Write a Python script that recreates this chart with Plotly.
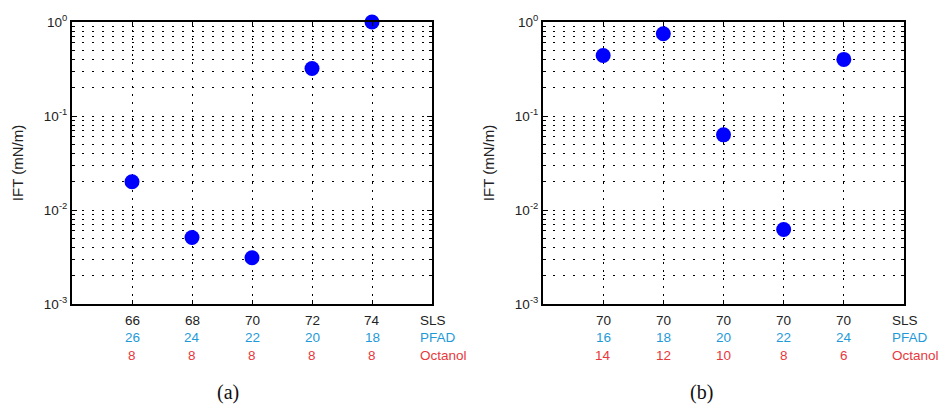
import plotly.graph_objects as go

# ---- data ----
pos = [1, 2, 3, 4, 5]
sls_a = [66, 68, 70, 72, 74]
pfad_a = [26, 24, 22, 20, 18]
oct_a = [8, 8, 8, 8, 8]
ift_a = [0.020, 0.0051, 0.0031, 0.32, 1.0]

sls_b = [70, 70, 70, 70, 70]
pfad_b = [16, 18, 20, 22, 24]
oct_b = [14, 12, 10, 8, 6]
ift_b = [0.44, 0.75, 0.063, 0.0062, 0.40]

row_names = ["SLS", "PFAD", "Octanol"]
row_colors = ["#222222", "#1f9ad8", "#e8383d"]

decades = [1e-3, 1e-2, 1e-1, 1.0]
decade_text = ["10<sup>-3</sup>", "10<sup>-2</sup>", "10<sup>-1</sup>", "10<sup>0</sup>"]
minor_vals = [m * 10 ** e for e in [-3, -2, -1] for m in range(2, 10)]

W, H = 940, 406
FONT = "Liberation Sans, Arial, sans-serif"

fig = go.Figure()
fig.add_trace(go.Scatter(x=pos, y=ift_a, mode="markers",
                         marker=dict(color="#0000ff", size=15),
                         xaxis="x", yaxis="y", showlegend=False, cliponaxis=False))
fig.add_trace(go.Scatter(x=pos, y=ift_b, mode="markers",
                         marker=dict(color="#0000ff", size=15),
                         xaxis="x2", yaxis="y2", showlegend=False, cliponaxis=False))

ytop, ybot = 22, 304
ydom = [1 - ybot / H, 1 - ytop / H]

common_x = dict(range=[0, 6], tickmode="array", tickvals=pos, showticklabels=False,
                showgrid=True, gridcolor="black", gridwidth=1, griddash="2px,6px",
                showline=True, linecolor="black", linewidth=2, mirror="ticks",
                ticks="inside", ticklen=4, tickcolor="black", zeroline=False,
                automargin=False)
common_y = dict(type="log", range=[-3, 0], tickmode="array", tickvals=decades, ticktext=decade_text,
                showgrid=True, gridcolor="black", gridwidth=1, griddash="2px,8px",
                showline=True, linecolor="black", linewidth=2, mirror="ticks",
                ticks="inside", ticklen=5, tickcolor="black", zeroline=False,
                minor=dict(tickmode="array", tickvals=minor_vals, ticks="inside", ticklen=3,
                           tickcolor="black", showgrid=True, gridcolor="black", gridwidth=1,
                           griddash="2px,8px"),
                tickfont=dict(family=FONT, size=13.5, color="#222222"),
                automargin=False,
                title=dict(text="IFT (mN/m)", font=dict(family=FONT, size=15, color="#222222"),
                           standoff=17))

fig.update_layout(
    width=W, height=H,
    margin=dict(l=0, r=0, t=0, b=0, autoexpand=False),
    paper_bgcolor="white", plot_bgcolor="white",
    xaxis=dict(domain=[72 / W, 432 / W], anchor="y", **common_x),
    yaxis=dict(domain=ydom, anchor="x", **common_y),
    xaxis2=dict(domain=[543 / W, 904 / W], anchor="y2", **common_x),
    yaxis2=dict(domain=ydom, anchor="x2", **common_y),
)

row_y = [320, 337, 355]
anns = []
for xref, rows in [("x", [sls_a, pfad_a, oct_a]), ("x2", [sls_b, pfad_b, oct_b])]:
    for ri, vals in enumerate(rows):
        for p, v in zip(pos, vals):
            anns.append(dict(x=p, y=1 - row_y[ri] / H, xref=xref, yref="paper",
                             text=str(v), showarrow=False, xanchor="center", yanchor="middle",
                             font=dict(family=FONT, size=13.5, color=row_colors[ri])))
        anns.append(dict(x=5.77, y=1 - row_y[ri] / H, xref=xref, yref="paper",
                         text=row_names[ri], showarrow=False, xanchor="left", yanchor="middle",
                         font=dict(family=FONT, size=13.5, color=row_colors[ri])))

for lab, xp in [("(a)", 228), ("(b)", 701)]:
    anns.append(dict(x=xp / W, y=1 - 392 / H, xref="paper", yref="paper", text=lab,
                     showarrow=False, xanchor="center", yanchor="middle",
                     font=dict(family="Liberation Serif, Times New Roman, serif", size=20, color="#111111")))

fig.update_layout(annotations=anns)
fig.write_html("out.html", config={"displayModeBar": False},
               post_script="document.body.style.margin='0';document.body.style.overflow='hidden';")
